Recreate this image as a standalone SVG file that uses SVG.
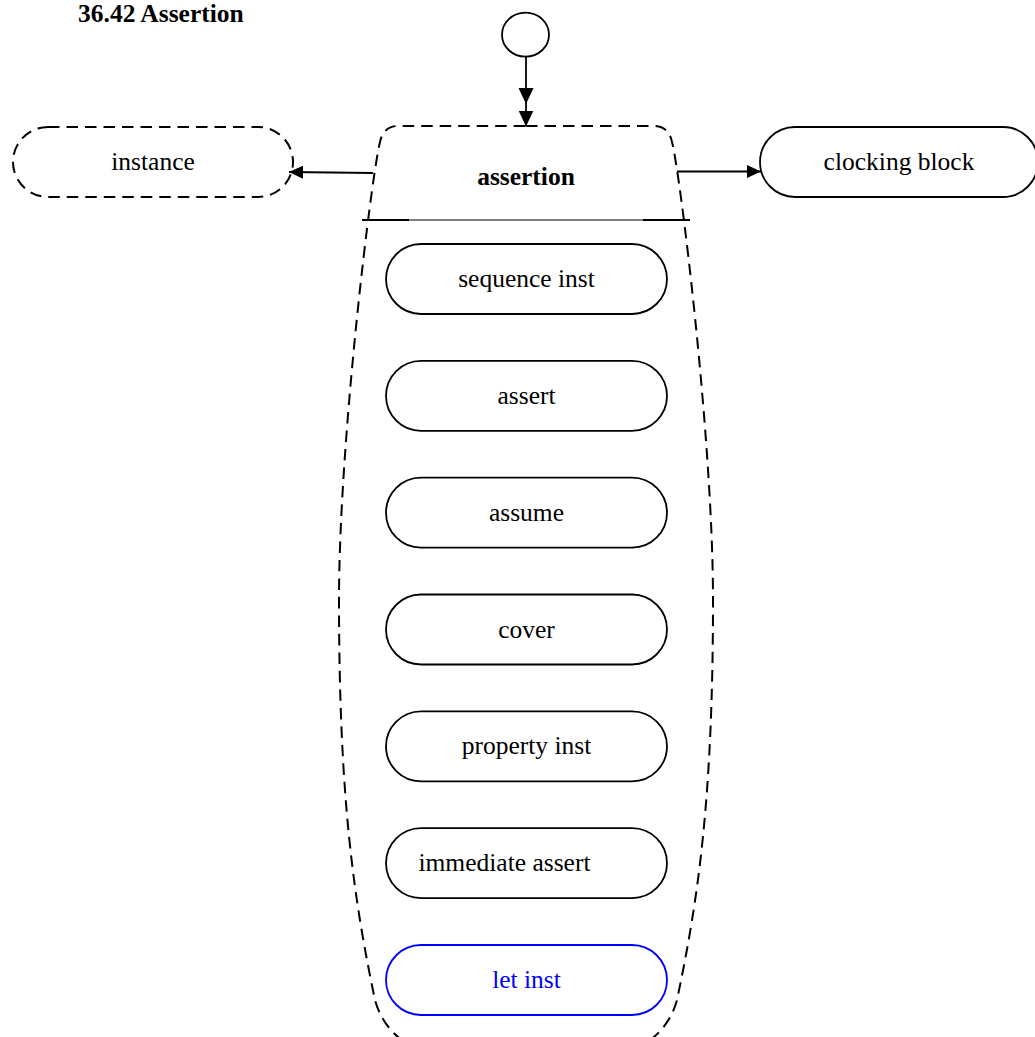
<svg xmlns="http://www.w3.org/2000/svg" width="1035" height="1037" viewBox="0 0 1035 1037">
<defs>
<style>
text{font-family:"Liberation Serif","Times New Roman",serif;font-size:25.5px;fill:#000}
.t{text-anchor:middle}
.b{font-weight:bold}
.node{fill:#fff;stroke:#000;stroke-width:1.8}
.dash{fill:none;stroke:#000;stroke-width:2;stroke-dasharray:11.5 7}
.conn{fill:none;stroke:#000;stroke-width:1.8}
.blue{stroke:#0000ff}
.bt{fill:#0000ff}
</style>
<marker id="arr" markerWidth="14" markerHeight="13" refX="14" refY="6.5" orient="auto" markerUnits="userSpaceOnUse">
<path d="M0,0 L14,6.5 L0,13 Z" fill="#000"/>
</marker>
<marker id="arrv" markerWidth="16" markerHeight="16" refX="16" refY="8" orient="auto" markerUnits="userSpaceOnUse">
<path d="M0,0.5 L16,8 L0,15.5 Z" fill="#000"/>
</marker>
</defs>
<rect width="1035" height="1037" fill="#fff"/>
<text x="78" y="22" class="b">36.42 Assertion</text>

<g id="start">
<ellipse cx="525.5" cy="34.7" rx="23.5" ry="22" fill="#fff" stroke="#000" stroke-width="1.8"/>
</g>

<g id="assertion">
<path class="dash" d="M526,126 L654,126 C664,126 670,132 672,142 C680,172 713,440 713,600 C713,800 698,900 677,1000 C673,1015 664,1030 650,1040 L402,1040 C388,1030 379,1015 375,1000 C354,900 339,800 339,600 C339,440 372,172 380,142 C382,132 388,126 398,126 Z"/>
<line x1="362" y1="220" x2="690" y2="220" stroke="#000" stroke-width="1"/>
<line x1="362" y1="220" x2="409" y2="220" stroke="#000" stroke-width="1.8"/>
<line x1="643" y1="220" x2="690" y2="220" stroke="#000" stroke-width="1.8"/>
<text x="526" y="185" class="t b">assertion</text>
</g>

<g id="instance">
<rect x="13" y="127" width="280" height="70" rx="35" ry="35" class="dash" fill="#fff"/>
<text x="153" y="169.5" class="t">instance</text>
</g>

<g id="clocking_block">
<rect x="760" y="127" width="278" height="70" rx="35" ry="35" class="node"/>
<text x="899" y="169.5" class="t">clocking block</text>
</g>

<g id="sequence_inst">
<rect x="386" y="244" width="281" height="70" rx="35" ry="35" class="node"/>
<text x="526.5" y="287" class="t">sequence inst</text>
</g>
<g id="assert">
<rect x="386" y="360.8" width="281" height="70" rx="35" ry="35" class="node"/>
<text x="526.5" y="403.8" class="t">assert</text>
</g>
<g id="assume">
<rect x="386" y="477.7" width="281" height="70" rx="35" ry="35" class="node"/>
<text x="526.5" y="520.7" class="t">assume</text>
</g>
<g id="cover">
<rect x="386" y="594.5" width="281" height="70" rx="35" ry="35" class="node"/>
<text x="526.5" y="637.5" class="t">cover</text>
</g>
<g id="property_inst">
<rect x="386" y="711.3" width="281" height="70" rx="35" ry="35" class="node"/>
<text x="526.5" y="754.3" class="t">property inst</text>
</g>
<g id="immediate_assert">
<rect x="386" y="828.2" width="281" height="70" rx="35" ry="35" class="node"/>
<text x="504.5" y="871" class="t">immediate assert</text>
</g>
<g id="let_inst">
<rect x="386" y="945" width="281" height="70" rx="35" ry="35" class="node blue"/>
<text x="526.5" y="987.5" class="t bt">let inst</text>
</g>

<g id="connectors">
<line x1="526" y1="56.7" x2="526" y2="104" class="conn" marker-end="url(#arrv)"/>
<line x1="526" y1="104" x2="526" y2="126.5" class="conn" marker-end="url(#arrv)"/>
<line x1="373" y1="173" x2="289" y2="172" class="conn" marker-end="url(#arr)"/>
<line x1="677" y1="171.5" x2="761" y2="171.5" class="conn" marker-end="url(#arr)"/>
</g>
</svg>
